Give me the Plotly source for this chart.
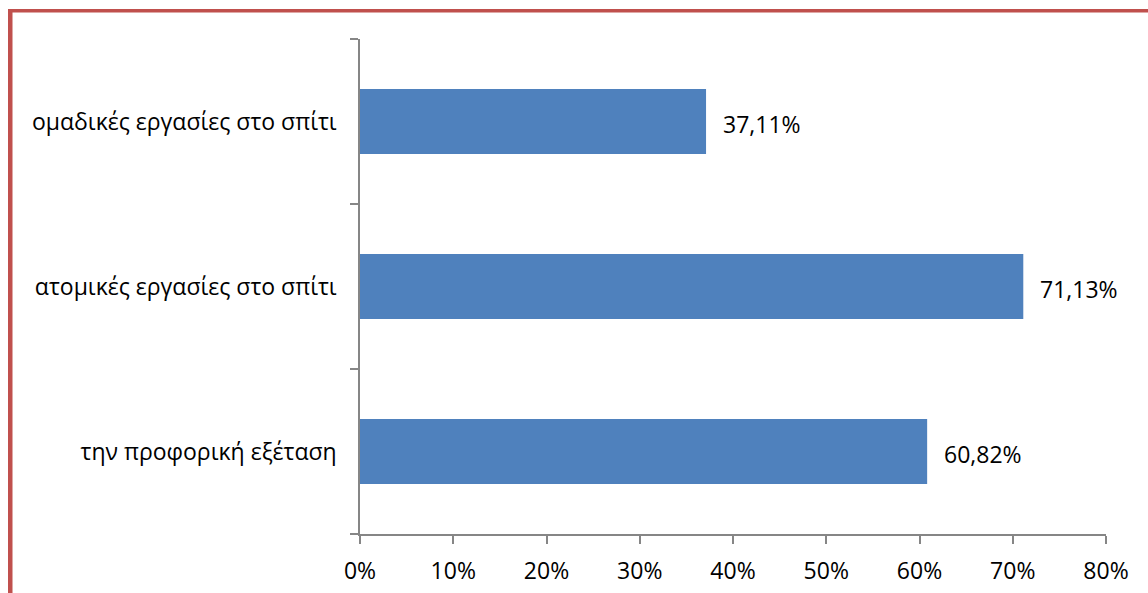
import plotly.graph_objects as go

categories = ["την προφορική εξέταση", "ατομικές εργασίες στο σπίτι", "ομαδικές εργασίες στο σπίτι"]
values = [60.82, 71.13, 37.11]
x_ticks = [0, 10, 20, 30, 40, 50, 60, 70, 80]
x_tick_labels = [f"{t}%" for t in x_ticks]
value_labels = [f"{v:.2f}%".replace(".", ",") for v in values]

W_PX, H_PX = 1148, 593
L, R, T, B = 360, 42, 39, 59
PW = W_PX - L - R
PH = H_PX - T - B

def px_x(px):
    return (px - L) / PW

def px_y(py):
    return 1 - (py - T) / PH

FONT = "Open Sans"
FS = 23
AXIS_COLOR = "#868686"
BORDER = "#C0504D"

fig = go.Figure()
fig.add_trace(go.Bar(
    y=categories,
    x=values,
    orientation="h",
    marker=dict(color="#4F81BD", line=dict(width=0)),
    width=0.395,
    hoverinfo="skip",
))

for c, v, lab in zip(categories, values, value_labels):
    fig.add_annotation(
        x=v, y=c, xref="x", yref="y", text=lab, showarrow=False,
        xanchor="left", yanchor="middle", xshift=15, yshift=-2,
        font=dict(family=FONT, size=FS, color="#000000"),
    )

fig.add_shape(type="rect", xref="paper", yref="paper",
              x0=px_x(8), x1=px_x(12.5), y0=px_y(9), y1=px_y(600),
              fillcolor=BORDER, line=dict(width=0), layer="above")
fig.add_shape(type="rect", xref="paper", yref="paper",
              x0=px_x(8), x1=px_x(1160), y0=px_y(9), y1=px_y(12.5),
              fillcolor=BORDER, line=dict(width=0), layer="above")

fig.update_layout(
    width=W_PX, height=H_PX,
    margin=dict(l=L, r=R, t=T, b=B, pad=0, autoexpand=False),
    paper_bgcolor="white", plot_bgcolor="white",
    showlegend=False,
    font=dict(family=FONT, size=FS, color="#000000"),
    xaxis=dict(
        range=[0, 80], tickvals=x_ticks, ticktext=x_tick_labels,
        automargin=False,
        showgrid=False, zeroline=False,
        showline=True, linecolor=AXIS_COLOR, linewidth=1.5,
        ticks="outside", ticklen=8, tickcolor=AXIS_COLOR, tickwidth=1.5,
        ticklabelstandoff=8,
        tickfont=dict(family=FONT, size=FS, color="#000000"),
    ),
    yaxis=dict(
        type="category", categoryorder="array", categoryarray=categories,
        automargin=False,
        showgrid=False, zeroline=False,
        showline=True, linecolor=AXIS_COLOR, linewidth=1.5,
        ticks="outside", ticklen=8, tickcolor=AXIS_COLOR, tickwidth=1.5,
        tickson="boundaries", ticklabelstandoff=17,
        tickfont=dict(family=FONT, size=FS, color="#000000"),
    ),
)

fig.write_html("out.html")
